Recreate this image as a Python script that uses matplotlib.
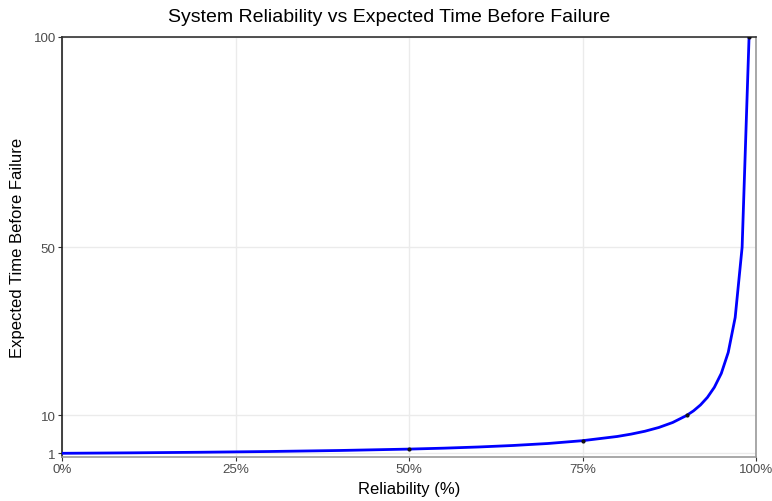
import matplotlib
matplotlib.use("Agg")
import matplotlib.pyplot as plt
from matplotlib.ticker import FuncFormatter

plt.rcParams['font.family'] = ['Liberation Sans', 'DejaVu Sans']

# reliability (fraction) and expected time before failure
reliability = [0.00, 0.10, 0.20, 0.30, 0.40, 0.50, 0.55, 0.60, 0.65, 0.70,
               0.75, 0.80, 0.82, 0.84, 0.86, 0.88, 0.90, 0.91, 0.92, 0.93,
               0.94, 0.95, 0.96, 0.97, 0.98, 0.99]
exp_time = [1.00, 1.11, 1.25, 1.43, 1.67, 2.00, 2.22, 2.50, 2.86, 3.33,
            4.00, 5.00, 5.56, 6.25, 7.14, 8.33, 10.0, 11.1, 12.5, 14.3,
            16.7, 20.0, 25.0, 33.3, 50.0, 100.0]
# highlighted points
pt_rel = [0.50, 0.75, 0.90, 0.99]
pt_time = [2.0, 4.0, 10.0, 100.0]

x_ticks = [0, 0.25, 0.5, 0.75, 1.0]
y_ticks = [1, 10, 50, 100]

fig = plt.figure(figsize=(7.72, 5.02), dpi=100)
ax = fig.add_axes([62/772, 1-458/502, (756-62)/772, (458-38)/502])

ax.plot(reliability, exp_time, color='#0000ff', lw=2, zorder=3)
ax.scatter(pt_rel, pt_time, s=4, color='#111111', zorder=4)

ax.set_xlim(0, 1)
ax.set_ylim(0.12, 100)
ax.set_xticks(x_ticks)
ax.set_yticks(y_ticks)
ax.xaxis.set_major_formatter(FuncFormatter(lambda v, p: f"{v*100:.0f}%"))
ax.grid(True, color='#ebebeb', lw=1)
ax.set_axisbelow(True)
ax.tick_params(colors='#333333', labelcolor='#4d4d4d', labelsize=9.6, length=3, pad=1.5)

ax.spines['left'].set_color('#222222')
ax.spines['top'].set_color('#333333')
ax.spines['bottom'].set_color('#999999')
ax.spines['right'].set_color('#999999')
for s in ax.spines.values():
    s.set_linewidth(1.2)

fig.text(389/772, 1-18/502, "System Reliability vs Expected Time Before Failure",
         fontsize=14, ha='center', va='center')
fig.text(409/772, 1-490/502, "Reliability (%)", fontsize=12, ha='center', va='center')
fig.text(18/772, 1-248/502, "Expected Time Before Failure", fontsize=12,
         rotation=90, ha='center', va='center')

fig.savefig("out.png", dpi=100)
